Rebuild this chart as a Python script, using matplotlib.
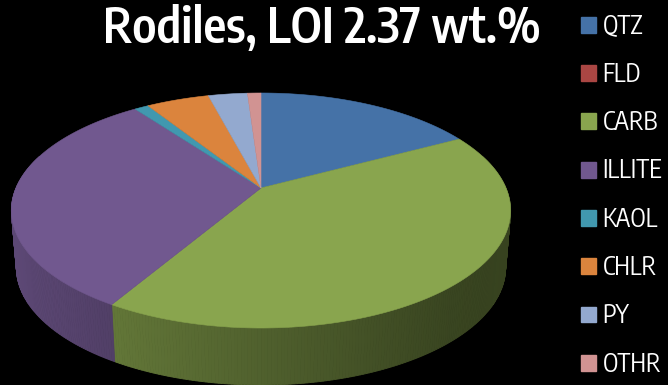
import numpy as np
import matplotlib
matplotlib.use("Agg")
import matplotlib.pyplot as plt
from matplotlib.patches import Polygon, Patch

title = "Rodiles, LOI 2.37 wt.%"
categories = ["QTZ", "FLD", "CARB", "ILLITE", "KAOL", "CHLR", "PY", "OTHR"]
values = [17.2, 0.0, 41.3, 31.4, 1.1, 4.9, 3.05, 1.05]
colors = ["#4572A7", "#AA4643", "#89A54E", "#71588F", "#4198AF", "#DB843D", "#93A9CF", "#D19392"]

W, H = 668, 385
fig = plt.figure(figsize=(W / 100, H / 100), dpi=100, facecolor="black")
ax = fig.add_axes([0, 0, 1, 1], facecolor="black")
ax.set_xlim(0, W)
ax.set_ylim(H, 0)
ax.axis("off")

# projective view of the pie disc
CX, CY, S, A, K = 261.0, 188.0, 245.0, 113.2, 0.1915
DEPTH, BOTTOM_SCALE = 57.0, 0.98


def top_rim(theta):
    u, v = np.sin(theta), np.cos(theta)
    d = 1 + K * v
    return CX + S * u / d, CY - A * v / d


def bottom_rim(theta):
    x, y = top_rim(theta)
    return CX + BOTTOM_SCALE * (x - CX), y + DEPTH


def shade(col, x):
    f = np.interp(x, [10, 110, 300, 450, 510], [0.82, 0.72, 0.55, 0.42, 0.40])
    return tuple(np.array(matplotlib.colors.to_rgb(col)) * f)


edges = np.radians(np.concatenate([[0], np.cumsum(values)]) / sum(values) * 360)

# side wall, as thin shaded strips
for a0, a1, col in zip(edges[:-1], edges[1:], colors):
    n = max(int((a1 - a0) * 90), 1)
    ts = np.linspace(a0, a1, n + 1)
    for t0, t1 in zip(ts[:-1], ts[1:]):
        if np.cos((t0 + t1) / 2) > 0.3:
            continue
        xt0, yt0 = top_rim(t0)
        xt1, yt1 = top_rim(t1)
        xb0, yb0 = bottom_rim(t0)
        xb1, yb1 = bottom_rim(t1)
        c = shade(col, (xt0 + xt1) / 2)
        ax.add_patch(Polygon([(xt0, yt0), (xt1, yt1), (xb1, yb1), (xb0, yb0)],
                             closed=True, facecolor=c, edgecolor=c, lw=0.6))

# top face
for a0, a1, col in zip(edges[:-1], edges[1:], colors):
    if a1 <= a0:
        continue
    ts = np.linspace(a0, a1, max(int((a1 - a0) * 60), 4))
    xs, ys = top_rim(ts)
    pts = [(CX, CY)] + list(zip(xs, ys))
    ax.add_patch(Polygon(pts, closed=True, facecolor=col, edgecolor=col, lw=0.4))

ax.text(322, 43, title, color="white", fontsize=35, fontweight=600,
        family="Encode Sans Condensed", ha="center", va="baseline")

handles = [Patch(facecolor=c, edgecolor=c, label=n) for c, n in zip(colors, categories)]
leg = ax.legend(handles=handles, loc="upper left", bbox_to_anchor=(573 / W, 1 - 5.5 / H),
                frameon=False, labelcolor="white",
                prop={"family": "Encode Sans Condensed", "size": 18},
                handlelength=0.6, handleheight=0.6, handletextpad=0.28,
                labelspacing=0.872, borderpad=0.3, borderaxespad=0)

fig.savefig("out.png", dpi=100, facecolor="black")
